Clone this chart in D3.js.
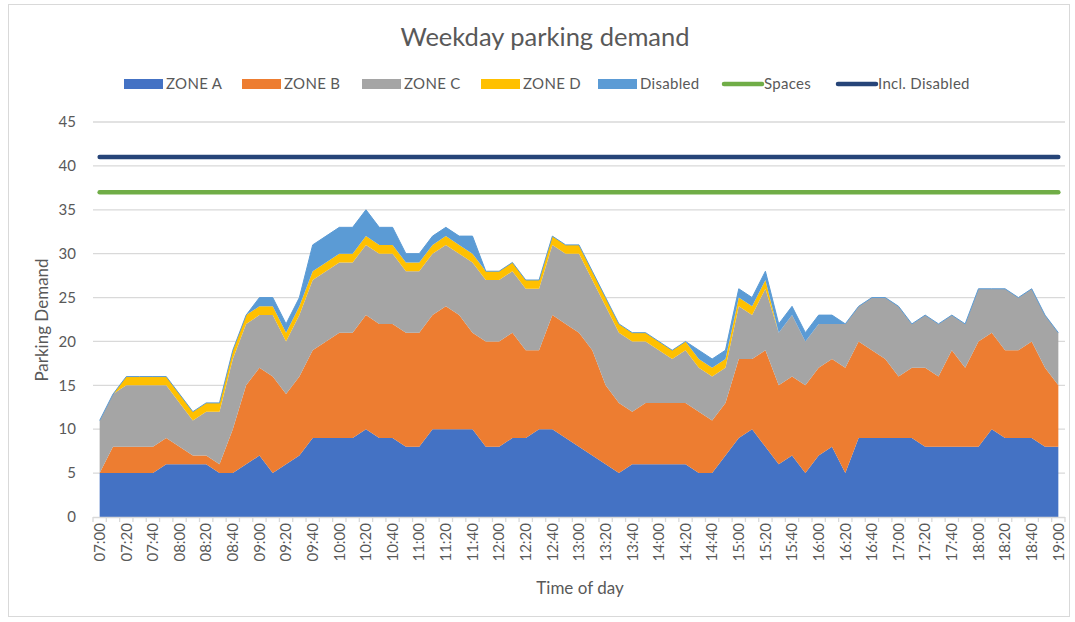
<html>
<head>
<meta charset="utf-8">
<style>
  body { margin: 0; background: #fff; }
  text { font-family: Lato, "Open Sans", sans-serif; fill: #595959; }
</style>
</head>
<body>
<script src="https://d3js.org/d3.v7.min.js"></script>
<script>
// 10-minute slots, 07:00 .. 19:00
var times = [];
for (var h = 7; h <= 19; h++) {
  for (var m = 0; m < 60; m += 10) {
    if (h == 19 && m > 0) break;
    times.push((h < 10 ? "0" : "") + h + ":" + (m < 10 ? "0" : "") + m);
  }
}

var zoneA = [5,5,5,5,5,6,6,6,6,5,5,6,7,5,6,7,9,9,9,9,10,9,9,8,8,10,10,10,10,8,8,9,9,10,10,9,8,7,6,5,6,6,6,6,6,5,5,7,9,10,8,6,7,5,7,8,5,9,9,9,9,9,8,8,8,8,8,10,9,9,9,8,8];
var zoneB = [0,3,3,3,3,3,2,1,1,1,5,9,10,11,8,9,10,11,12,12,13,13,13,13,13,13,14,13,11,12,12,12,10,9,13,13,13,12,9,8,6,7,7,7,7,7,6,6,9,8,11,9,9,10,10,10,12,11,10,9,7,8,9,8,11,9,12,11,10,10,11,9,7];
var zoneC = [6,6,7,7,7,6,5,4,5,6,8,7,6,7,6,7,8,8,8,8,8,8,8,7,7,7,7,7,8,7,7,7,7,7,8,8,9,8,9,8,8,7,6,5,6,5,5,4,6,5,7,6,7,5,5,4,5,4,6,7,8,5,6,6,4,5,6,5,7,6,6,6,6];
var zoneD = [0,0,1,1,1,1,1,1,1,1,1,1,1,1,1,1,1,1,1,1,1,1,1,1,1,1,1,1,1,1,1,1,1,1,1,1,1,1,1,1,1,1,1,1,1,1,1,1,1,1,1,0,0,0,0,0,0,0,0,0,0,0,0,0,0,0,0,0,0,0,0,0,0];
var disabled = [0,0,0,0,0,0,0,0,0,0,0,0,1,1,1,1,3,3,3,3,3,2,2,1,1,1,1,1,2,0,0,0,0,0,0,0,0,0,0,0,0,0,0,0,0,1,1,1,1,1,1,1,1,1,1,1,0,0,0,0,0,0,0,0,0,0,0,0,0,0,0,0,0];
var spaces = 37;
var inclDisabled = 41;

var keys = ["ZONE A", "ZONE B", "ZONE C", "ZONE D", "Disabled"];
var colors = ["#4472C4", "#ED7D31", "#A5A5A5", "#FFC000", "#5B9BD5"];
var yTicks = [0,5,10,15,20,25,30,35,40,45];

var rows = times.map(function(t, i) {
  return {t: t, "ZONE A": zoneA[i], "ZONE B": zoneB[i], "ZONE C": zoneC[i], "ZONE D": zoneD[i], "Disabled": disabled[i]};
});

var W = 1075, H = 622;
var svg = d3.select("body").append("svg").attr("width", W).attr("height", H);

svg.append("rect").attr("x", 8.5).attr("y", 4.5).attr("width", 1061).attr("height", 612)
   .attr("fill", "#fff").attr("stroke", "#d9d9d9");

var x = d3.scalePoint().domain(times).range([93, 1065]).padding(0.5);
var y = d3.scaleLinear().domain([0, 45]).range([517, 122]);

// gridlines
svg.append("g").selectAll("line").data(yTicks.slice(1)).enter().append("line")
   .attr("x1", 93).attr("x2", 1065)
   .attr("y1", function(d) { return y(d); }).attr("y2", function(d) { return y(d); })
   .attr("stroke", "#d9d9d9").attr("stroke-width", 1.3);

// y labels
svg.append("g").selectAll("text").data(yTicks).enter().append("text")
   .attr("x", 76).attr("y", function(d) { return y(d); }).attr("dy", "0.35em")
   .attr("text-anchor", "end").style("font-size", "15px").text(function(d) { return d; });

var stack = d3.stack().keys(keys)(rows);
var area = d3.area()
   .x(function(d) { return x(d.data.t); })
   .y0(function(d) { return y(d[0]); })
   .y1(function(d) { return y(d[1]); });

svg.append("g").selectAll("path").data(stack).enter().append("path")
   .attr("d", area)
   .attr("fill", function(d, i) { return colors[i]; });

// thin outline on top of disabled series
svg.append("path").datum(stack[4])
   .attr("d", d3.line().x(function(d) { return x(d.data.t); }).y(function(d) { return y(d[1]); }))
   .attr("fill", "none").attr("stroke", "#5B9BD5").attr("stroke-width", 1);

// flat lines
var flat = [{name: "Spaces", v: spaces, c: "#70AD47"}, {name: "Incl. Disabled", v: inclDisabled, c: "#264478"}];
svg.append("g").selectAll("line").data(flat).enter().append("line")
   .attr("x1", x(times[0])).attr("x2", x(times[times.length - 1]))
   .attr("y1", function(d) { return y(d.v); }).attr("y2", function(d) { return y(d.v); })
   .attr("stroke", function(d) { return d.c; }).attr("stroke-width", 4.5)
   .attr("stroke-linecap", "round");

// x axis
var xg = svg.append("g");
xg.append("line").attr("x1", 93).attr("x2", 1065).attr("y1", 517.5).attr("y2", 517.5)
  .attr("stroke", "#d9d9d9").attr("stroke-width", 1.3);
var step = x.step();
xg.selectAll("line.tk").data(d3.range(times.length + 1)).enter().append("line")
  .attr("class", "tk")
  .attr("x1", function(i) { return 93 + i * step; }).attr("x2", function(i) { return 93 + i * step; })
  .attr("y1", 517).attr("y2", 522).attr("stroke", "#d9d9d9").attr("stroke-width", 1.3);
xg.selectAll("text").data(times.filter(function(t, i) { return i % 2 == 0; })).enter().append("text")
  .attr("transform", function(t) { return "translate(" + x(t) + ",523) rotate(-90)"; })
  .attr("dy", "0.35em").attr("text-anchor", "end").style("font-size", "15px")
  .text(function(t) { return t; });

// titles
svg.append("text").attr("x", 545).attr("y", 46).attr("text-anchor", "middle")
   .style("font-size", "25.5px").text("Weekday parking demand");
svg.append("text").attr("x", 580).attr("y", 594).attr("text-anchor", "middle")
   .style("font-size", "17px").text("Time of day");
svg.append("text").attr("transform", "translate(48,320) rotate(-90)").attr("text-anchor", "middle")
   .style("font-size", "17px").text("Parking Demand");

// legend
var legend = [
  {name: "ZONE A", c: colors[0], x: 124, type: "box"},
  {name: "ZONE B", c: colors[1], x: 242, type: "box"},
  {name: "ZONE C", c: colors[2], x: 362, type: "box"},
  {name: "ZONE D", c: colors[3], x: 481, type: "box"},
  {name: "Disabled", c: colors[4], x: 598, type: "box"},
  {name: "Spaces", c: "#70AD47", x: 722, type: "line"},
  {name: "Incl. Disabled", c: "#264478", x: 836, type: "line"}
];
var lg = svg.append("g").selectAll("g").data(legend).enter().append("g");
lg.filter(function(d) { return d.type == "box"; }).append("rect")
  .attr("x", function(d) { return d.x; }).attr("y", 79).attr("width", 39).attr("height", 10)
  .attr("fill", function(d) { return d.c; });
lg.filter(function(d) { return d.type == "line"; }).append("line")
  .attr("x1", function(d) { return d.x + 2; }).attr("x2", function(d) { return d.x + 40; })
  .attr("y1", 84).attr("y2", 84).attr("stroke", function(d) { return d.c; })
  .attr("stroke-width", 4.5).attr("stroke-linecap", "round");
lg.append("text").attr("x", function(d) { return d.x + 42; }).attr("y", 84).attr("dy", "0.35em")
  .style("font-size", "15px").style("letter-spacing", "0.3px").text(function(d) { return d.name; });
</script>
</body>
</html>
